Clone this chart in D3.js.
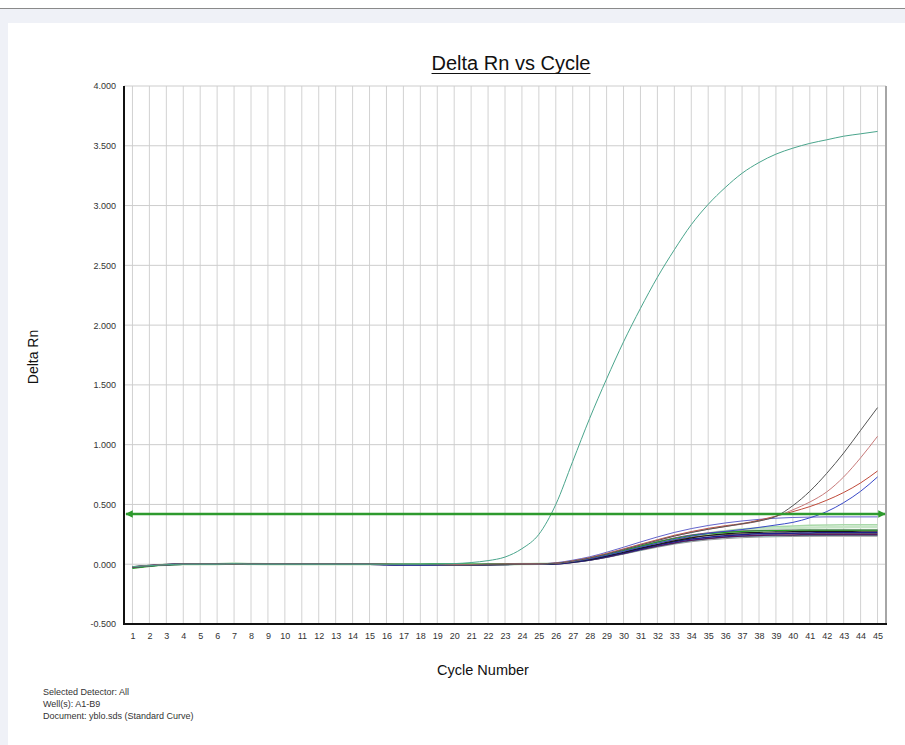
<!DOCTYPE html>
<html>
<head>
    <meta charset="utf-8">
    <title>Delta Rn vs Cycle</title>
    <script src="https://d3js.org/d3.v7.min.js"></script>
    <style>
        body {
            margin: 0;
            background-color: #ffffff;
            font-family: "Liberation Sans", Arial, sans-serif;
        }
        .tick text {
            fill: #333333;
            font-size: 9px;
            font-family: "Liberation Sans", Arial, sans-serif;
        }
        .domain { display: none; }
    </style>
</head>
<body>
<div id="chart"></div>
<script>
    // cycle numbers (x categories / tick labels)
    const cycles = [1, 2, 3, 4, 5, 6, 7, 8, 9, 10, 11, 12, 13, 14, 15, 16, 17, 18, 19, 20, 21, 22, 23,
        24, 25, 26, 27, 28, 29, 30, 31, 32, 33, 34, 35, 36, 37, 38, 39, 40, 41, 42, 43, 44, 45];
    const yTicks = [-0.5, 0, 0.5, 1, 1.5, 2, 2.5, 3, 3.5, 4];
    const threshold = 0.42;

    // Delta Rn per well, cycles 1..45 (first row = cycles 1-25, second row = 26-45)
    const wellMain = [-0.02, -0.012, -0.004, 0, 0, 0, 0.004, 0, 0, 0, 0, 0, 0, 0, 0, 0, 0, 0, 0.002, 0.005, 0.014, 0.03, 0.06, 0.13, 0.25,
        0.5, 0.86, 1.22, 1.55, 1.86, 2.14, 2.4, 2.63, 2.84, 3.01, 3.15, 3.27, 3.36, 3.43, 3.48, 3.52, 3.55, 3.58, 3.6, 3.62];
    const wellP1 = [-0.025, -0.012, -0.004, 0, 0, 0, 0, 0, 0, 0, 0, 0, 0, 0, 0, -0.003, -0.004, -0.004, -0.005, -0.006, -0.004, -0.003, -0.002, 0, 0.003,
        0.012, 0.034, 0.062, 0.1, 0.142, 0.186, 0.228, 0.266, 0.298, 0.324, 0.345, 0.362, 0.375, 0.385, 0.391, 0.394, 0.396, 0.396, 0.396, 0.396];
    const wellP2 = [-0.022, -0.01, -0.003, 0, 0, 0, 0, 0, 0, 0, 0, 0, 0, 0, 0, 0, -0.002, -0.003, -0.004, -0.008, -0.007, -0.004, -0.002, 0, 0.002,
        0.005, 0.02, 0.045, 0.075, 0.11, 0.15, 0.185, 0.215, 0.24, 0.262, 0.28, 0.295, 0.306, 0.315, 0.32, 0.325, 0.328, 0.33, 0.33, 0.33];
    const wellP3 = [-0.03, -0.015, -0.005, 0, 0, 0, 0.008, 0.002, 0, 0, 0, 0, 0, 0, 0, -0.002, -0.003, -0.002, -0.002, -0.003, -0.002, -0.001, 0, 0.001, 0.004,
        0.005, 0.02, 0.04, 0.07, 0.1, 0.138, 0.172, 0.202, 0.228, 0.248, 0.265, 0.278, 0.29, 0.298, 0.304, 0.308, 0.31, 0.31, 0.311, 0.311];
    const wellP4 = [-0.035, -0.018, -0.006, -0.001, 0, 0, 0, 0, 0, 0, 0, 0, 0, 0, 0, 0, 0, 0.002, 0.003, 0.003, 0.002, 0.001, 0, 0.001, 0.003,
        0.008, 0.025, 0.05, 0.08, 0.115, 0.15, 0.185, 0.215, 0.24, 0.255, 0.266, 0.274, 0.279, 0.282, 0.284, 0.285, 0.286, 0.286, 0.286, 0.286];
    const wellP5 = [-0.028, -0.014, -0.004, 0, 0, 0, 0, 0, 0, 0, 0, 0, 0, 0, 0, -0.002, -0.004, -0.005, -0.006, -0.009, -0.008, -0.005, -0.003, 0, 0.002,
        0.005, 0.02, 0.04, 0.07, 0.1, 0.135, 0.165, 0.195, 0.22, 0.24, 0.254, 0.262, 0.267, 0.27, 0.272, 0.274, 0.275, 0.275, 0.276, 0.276];
    const wellP6 = [-0.027, -0.013, -0.004, 0, 0, 0, 0, 0, 0, 0, 0, 0, 0, 0, 0, -0.004, -0.006, -0.006, -0.006, -0.007, -0.005, -0.003, -0.002, 0, 0.002,
        0.004, 0.018, 0.038, 0.065, 0.095, 0.128, 0.16, 0.188, 0.21, 0.226, 0.238, 0.247, 0.254, 0.258, 0.26, 0.262, 0.263, 0.263, 0.264, 0.264];
    const wellP7 = [-0.024, -0.011, -0.003, 0, 0, 0, 0, 0, 0, 0, 0, 0, 0, 0, 0, -0.003, -0.005, -0.005, -0.004, -0.006, -0.005, -0.003, -0.001, 0, 0.002,
        0.004, 0.016, 0.035, 0.06, 0.09, 0.122, 0.152, 0.178, 0.2, 0.216, 0.228, 0.236, 0.241, 0.244, 0.245, 0.246, 0.247, 0.247, 0.247, 0.247];
    const wellP8 = [-0.02, -0.01, -0.003, 0, 0, 0, 0, 0, 0, 0, 0, 0, 0, 0, 0, 0, -0.001, -0.002, -0.002, -0.003, -0.002, -0.001, 0, 0.001, 0.002,
        0.003, 0.014, 0.032, 0.056, 0.084, 0.114, 0.142, 0.168, 0.188, 0.203, 0.214, 0.222, 0.227, 0.23, 0.232, 0.233, 0.234, 0.234, 0.234, 0.234];
    const wellP9 = [-0.022, -0.011, -0.003, 0, 0, 0, 0.006, 0.001, 0, 0, 0, 0, 0, 0, 0, 0, 0, -0.001, -0.002, -0.002, -0.001, 0, 0, 0.001, 0.002,
        0.003, 0.015, 0.033, 0.058, 0.087, 0.118, 0.148, 0.174, 0.196, 0.212, 0.224, 0.232, 0.236, 0.238, 0.24, 0.241, 0.241, 0.242, 0.242, 0.242];
    const wellP10 = [-0.026, -0.012, -0.004, 0, 0, 0, 0, 0, 0, 0, 0, 0, 0, 0, 0, -0.002, -0.003, -0.003, -0.004, -0.005, -0.004, -0.002, -0.001, 0.001, 0.003,
        0.006, 0.022, 0.045, 0.075, 0.108, 0.142, 0.175, 0.203, 0.226, 0.24, 0.248, 0.252, 0.254, 0.255, 0.255, 0.256, 0.256, 0.256, 0.256, 0.256];
    const wellP11 = [-0.024, -0.012, -0.004, 0, 0, 0, 0, 0, 0, 0, 0, 0, 0, 0, 0, -0.003, -0.005, -0.005, -0.006, -0.007, -0.005, -0.003, -0.001, 0.001, 0.003,
        0.007, 0.024, 0.048, 0.08, 0.115, 0.152, 0.188, 0.22, 0.245, 0.262, 0.272, 0.278, 0.282, 0.284, 0.285, 0.286, 0.286, 0.286, 0.286, 0.286];
    const wellL1 = [-0.028, -0.014, -0.005, 0, 0, 0, 0, 0, 0, 0, 0, 0, 0, 0, 0, -0.002, -0.003, -0.003, -0.004, -0.008, -0.007, -0.004, -0.002, 0, 0.003,
        0.008, 0.026, 0.052, 0.085, 0.122, 0.16, 0.198, 0.235, 0.265, 0.292, 0.315, 0.338, 0.362, 0.4, 0.49, 0.61, 0.76, 0.93, 1.12, 1.31];
    const wellL2 = [-0.023, -0.011, -0.003, 0, 0, 0, 0, 0, 0, 0, 0, 0, 0, 0, 0, 0, -0.001, -0.002, -0.002, -0.003, -0.002, -0.001, 0, 0.001, 0.003,
        0.008, 0.027, 0.053, 0.087, 0.125, 0.163, 0.2, 0.236, 0.267, 0.293, 0.315, 0.335, 0.36, 0.4, 0.455, 0.52, 0.605, 0.73, 0.89, 1.07];
    const wellL3 = [-0.025, -0.012, -0.004, 0, 0, 0, 0, 0, 0, 0, 0, 0, 0, 0, 0, -0.001, -0.002, -0.002, -0.003, -0.004, -0.003, -0.002, 0, 0.001, 0.004,
        0.009, 0.028, 0.055, 0.09, 0.128, 0.167, 0.205, 0.242, 0.273, 0.3, 0.322, 0.34, 0.368, 0.402, 0.44, 0.482, 0.535, 0.6, 0.68, 0.78];
    const wellL4 = [-0.027, -0.013, -0.004, 0, 0, 0, 0, 0, 0, 0, 0, 0, 0, 0, 0, -0.004, -0.006, -0.007, -0.007, -0.008, -0.006, -0.004, -0.002, 0, 0.002,
        0.006, 0.022, 0.045, 0.075, 0.108, 0.142, 0.176, 0.207, 0.235, 0.258, 0.275, 0.29, 0.308, 0.328, 0.35, 0.388, 0.44, 0.515, 0.61, 0.73];

    const wells = [
        { values: wellP3, color: "#c6e5c6", width: 2.5 },
        { values: wellP2, color: "#a9d9a9", width: 1.5 },
        { values: wellP8, color: "#9c9c9c", width: 1 },
        { values: wellP9, color: "#40a4a4", width: 1 },
        { values: wellP10, color: "#8c6c3c", width: 1 },
        { values: wellP11, color: "#8a3a9a", width: 1 },
        { values: wellP7, color: "#5c1c5c", width: 1.5 },
        { values: wellP6, color: "#20208e", width: 1.5 },
        { values: wellP5, color: "#1a1a1a", width: 1.2 },
        { values: wellP4, color: "#1f9f1f", width: 1.2 },
        { values: wellP1, color: "#6464cc", width: 1 },
        { values: wellL4, color: "#3a4ac8", width: 1 },
        { values: wellL3, color: "#c04a3a", width: 1 },
        { values: wellL2, color: "#c87a7a", width: 1 },
        { values: wellL1, color: "#555555", width: 1 },
        { values: wellMain, color: "#4aa58c", width: 1 }
    ];

    const W = 905, H = 745;
    const margin = { top: 86, right: 19, bottom: 121, left: 124 };

    const svg = d3.select("#chart")
        .append("svg")
        .attr("width", W)
        .attr("height", H);

    // page background
    svg.append("rect").attr("width", W).attr("height", H).attr("fill", "#ffffff");
    svg.append("rect").attr("x", 0).attr("y", 8).attr("width", W).attr("height", H - 8).attr("fill", "#eff1f7");
    svg.append("line").attr("x1", 0).attr("x2", W).attr("y1", 8.5).attr("y2", 8.5)
        .attr("stroke", "#8a8a8a").attr("stroke-width", 1);
    svg.append("rect").attr("x", 8).attr("y", 23).attr("width", W - 8).attr("height", H - 23).attr("fill", "#ffffff");

    const x = d3.scaleLinear()
        .domain([0.5, 45.5])
        .range([margin.left, W - margin.right]);

    const y = d3.scaleLinear()
        .domain([-0.5, 4])
        .range([H - margin.bottom, margin.top]);

    // grid
    svg.append("g")
        .selectAll("line")
        .data(cycles)
        .enter()
        .append("line")
        .attr("x1", d => x(d)).attr("x2", d => x(d))
        .attr("y1", y(4)).attr("y2", y(-0.5))
        .attr("stroke", "#d2d2d2").attr("stroke-width", 1);

    svg.append("g")
        .selectAll("line")
        .data(yTicks)
        .enter()
        .append("line")
        .attr("x1", x(0.5)).attr("x2", x(45.5))
        .attr("y1", d => y(d)).attr("y2", d => y(d))
        .attr("stroke", "#cdcdcd").attr("stroke-width", 1);

    // right border
    svg.append("line")
        .attr("x1", x(45.5)).attr("x2", x(45.5))
        .attr("y1", y(4)).attr("y2", y(-0.5))
        .attr("stroke", "#a6a6a6").attr("stroke-width", 2);

    // axes
    svg.append("g")
        .attr("transform", `translate(${margin.left - 1},0)`)
        .call(d3.axisLeft(y).tickValues(yTicks).tickFormat(d => d.toFixed(3)).tickSize(0).tickPadding(7));

    svg.append("g")
        .attr("transform", `translate(0,${H - margin.bottom})`)
        .call(d3.axisBottom(x).tickValues(cycles).tickFormat(d => String(d)).tickSize(0).tickPadding(9));

    // curves
    const line = d3.line()
        .x((d, i) => x(cycles[i]))
        .y(d => y(d))
        .curve(d3.curveMonotoneX);

    svg.append("g")
        .selectAll("path")
        .data(wells)
        .enter()
        .append("path")
        .attr("d", d => line(d.values))
        .attr("fill", "none")
        .attr("stroke", d => d.color)
        .attr("stroke-width", d => d.width);

    // threshold line with arrows
    const defs = svg.append("defs");
    defs.append("marker")
        .attr("id", "arr")
        .attr("viewBox", "0 0 10 10")
        .attr("refX", 9).attr("refY", 5)
        .attr("markerWidth", 3).attr("markerHeight", 3)
        .attr("orient", "auto-start-reverse")
        .append("path")
        .attr("d", "M0,0L10,5L0,10Z")
        .attr("fill", "#2e9a2e");

    svg.append("line")
        .attr("x1", x(0.5) + 2).attr("x2", x(45.5) - 1)
        .attr("y1", y(threshold)).attr("y2", y(threshold))
        .attr("stroke", "#2e9a2e").attr("stroke-width", 2.5)
        .attr("marker-start", "url(#arr)")
        .attr("marker-end", "url(#arr)");

    // axis lines (left and bottom)
    svg.append("line")
        .attr("x1", margin.left).attr("x2", margin.left)
        .attr("y1", y(4)).attr("y2", y(-0.5) + 1)
        .attr("stroke", "#111").attr("stroke-width", 2);
    svg.append("line")
        .attr("x1", margin.left - 1).attr("x2", x(45.5) + 1)
        .attr("y1", y(-0.5)).attr("y2", y(-0.5))
        .attr("stroke", "#111").attr("stroke-width", 2);

    // title with underline
    const title = svg.append("text")
        .attr("x", 511)
        .attr("y", 70)
        .attr("text-anchor", "middle")
        .style("font-size", "20px")
        .style("fill", "#111")
        .text("Delta Rn vs Cycle");
    const tw = title.node().getComputedTextLength();
    svg.append("line")
        .attr("x1", 511 - tw / 2).attr("x2", 511 + tw / 2)
        .attr("y1", 73.5).attr("y2", 73.5)
        .attr("stroke", "#111").attr("stroke-width", 1);

    // axis titles
    svg.append("text")
        .attr("transform", "translate(38,357) rotate(-90)")
        .attr("text-anchor", "middle")
        .style("font-size", "14px")
        .style("fill", "#111")
        .text("Delta Rn");

    svg.append("text")
        .attr("x", 483)
        .attr("y", 675)
        .attr("text-anchor", "middle")
        .style("font-size", "14.5px")
        .style("fill", "#111")
        .text("Cycle Number");

    // footer info
    const footer = ["Selected Detector: All", "Well(s): A1-B9", "Document: yblo.sds (Standard Curve)"];
    svg.append("g")
        .selectAll("text")
        .data(footer)
        .enter()
        .append("text")
        .attr("x", 43)
        .attr("y", (d, i) => 695 + i * 12)
        .style("font-size", "9px")
        .style("fill", "#333")
        .text(d => d);
</script>
</body>
</html>
